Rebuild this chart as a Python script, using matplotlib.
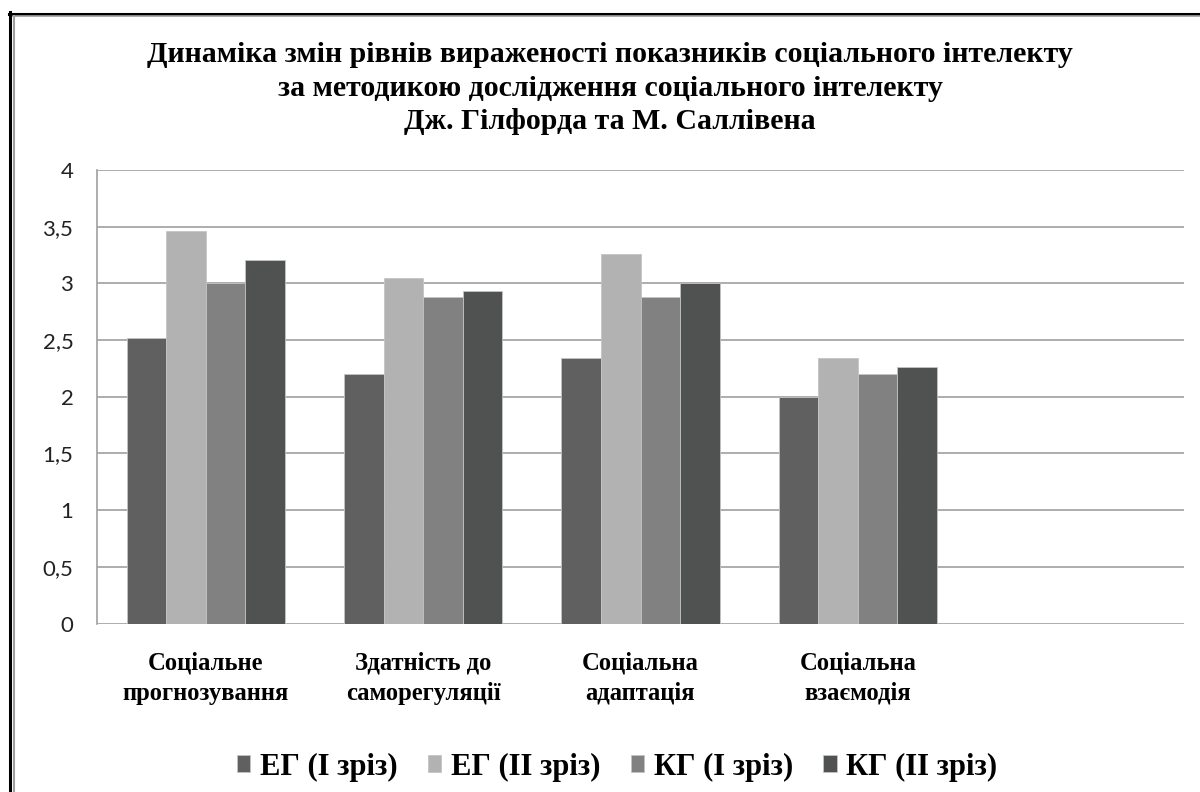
import matplotlib

matplotlib.use("Agg")
import matplotlib.pyplot as plt
from matplotlib.lines import Line2D
import numpy as np

# ── Data ─────────────────────────────────────────────────────────
categories = [
    "Соціальне\nпрогнозування",
    "Здатність до\nсаморегуляції",
    "Соціальна\nадаптація",
    "Соціальна\nвзаємодія",
]
series_names = ["ЕГ (І зріз)", "ЕГ (ІІ зріз)", "КГ (І зріз)", "КГ (ІІ зріз)"]
eg_1 = [2.52, 2.20, 2.34, 2.00]
eg_2 = [3.46, 3.05, 3.26, 2.34]
kg_1 = [3.00, 2.88, 2.88, 2.20]
kg_2 = [3.21, 2.93, 3.00, 2.26]
colors = ["#606060", "#b2b2b2", "#808180", "#505251"]
yticks = [0, 0.5, 1, 1.5, 2, 2.5, 3, 3.5, 4]
ytick_labels = ["0", "0,5", "1", "1,5", "2", "2,5", "3", "3,5", "4"]

title = ("Динаміка змін рівнів вираженості показників соціального інтелекту\n"
         "за методикою дослідження соціального інтелекту\n"
         "Дж. Гілфорда та М. Саллівена")

SERIF = "Liberation Serif"

# ── Figure ───────────────────────────────────────────────────────
fig = plt.figure(figsize=(12, 7.92), dpi=100)
ax = fig.add_axes([97 / 1200, 1 - 623.5 / 792, 1087 / 1200, 453.5 / 792])

x = np.arange(len(categories))
width = 1 / 5.5
for i, (vals, col, name) in enumerate(zip([eg_1, eg_2, kg_1, kg_2], colors, series_names)):
    ax.bar(x + (i - 1.5) * width, vals, width, color=col, edgecolor="#c4c4c4",
           linewidth=0.6, label=name, zorder=3)

# 5 category slots, the last one empty (as in the source chart)
ax.set_xlim(-0.5, 4.5)
ax.set_ylim(0, 4)
ax.set_yticks(yticks)
ax.set_yticklabels(ytick_labels, family="Lato", fontsize=16, color="#222222")
ax.set_xticks(x)
ax.set_xticklabels(categories, family=SERIF, fontweight="bold", fontsize=17.7,
                   linespacing=1.42)
ax.tick_params(axis="y", length=0, pad=17)
ax.tick_params(axis="x", length=0, pad=20)

ax.grid(axis="y", color="#a0a0a0", linewidth=1.2, zorder=0)
for s in ["top", "right", "bottom"]:
    ax.spines[s].set_visible(False)
ax.spines["left"].set_color("#a0a0a0")
ax.spines["left"].set_linewidth(1.2)

fig.text(610 / 1200, 1 - 88 / 792, title, ha="center", va="center",
         family=SERIF, fontweight="bold", fontsize=21.5, linespacing=1.32)

fig.legend(loc="center", bbox_to_anchor=(617 / 1200, 1 - 767 / 792), ncol=4,
           frameon=False, prop={"family": SERIF, "weight": "bold", "size": 22},
           handlelength=0.45, handleheight=0.45, handletextpad=0.3,
           columnspacing=1.0)

# outer frame (only top and left edges are visible in the source)
fig.add_artist(Line2D([9 / 1200, 1], [1 - 13.5 / 792] * 2, color="black", lw=2.2))
fig.add_artist(Line2D([13 / 1200, 1], [1 - 16 / 792] * 2, color="#a0a0a0", lw=1.2))
fig.add_artist(Line2D([10.3 / 1200] * 2, [0, 1 - 12 / 792], color="black", lw=2.2))
fig.add_artist(Line2D([14 / 1200] * 2, [0, 1 - 15.5 / 792], color="#a0a0a0", lw=1.5))

fig.savefig("out.png", dpi=100)
plt.close()
